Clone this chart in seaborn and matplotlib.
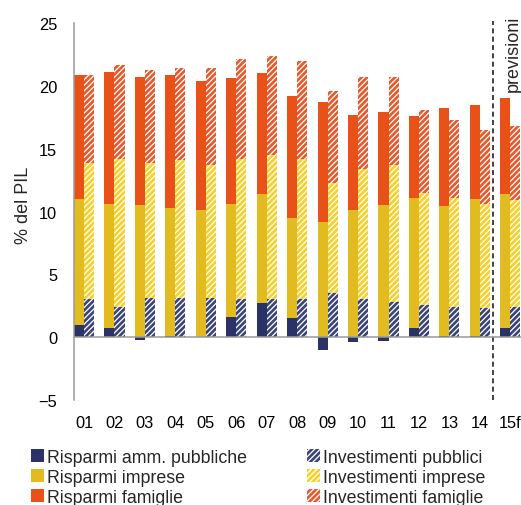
import numpy as np
import matplotlib
matplotlib.use('Agg')
import matplotlib.pyplot as plt
import seaborn as sns
from matplotlib.patches import Patch

years = ['01', '02', '03', '04', '05', '06', '07', '08', '09', '10', '11', '12', '13', '14', '15f']
# risparmi (% del PIL)
gov_sav = [1.0, 0.7, -0.2, 0.1, 0.0, 1.6, 2.7, 1.5, -1.0, -0.4, -0.3, 0.7, 0.1, 0.1, 0.7]
firm_sav = [10.0, 9.9, 10.5, 10.2, 10.1, 9.0, 8.7, 8.0, 9.2, 10.1, 10.5, 10.4, 10.3, 10.9, 10.7]
hh_sav = [9.9, 10.5, 10.2, 10.6, 10.3, 10.0, 9.6, 9.7, 9.5, 7.6, 7.4, 6.5, 7.8, 7.5, 7.6]
# investimenti (% del PIL)
pub_inv = [3.0, 2.4, 3.1, 3.1, 3.1, 3.0, 3.0, 3.0, 3.5, 3.0, 2.8, 2.6, 2.4, 2.3, 2.4]
firm_inv = [10.9, 11.8, 10.8, 11.0, 10.6, 11.2, 11.5, 11.2, 8.8, 10.4, 10.9, 8.9, 8.7, 8.3, 8.5]
hh_inv = [7.0, 7.5, 7.4, 7.3, 7.7, 7.9, 7.9, 7.8, 7.3, 7.3, 7.0, 6.6, 6.2, 5.9, 5.9]

sns.set_style('white')
plt.rcParams['font.family'] = ['Liberation Sans', 'DejaVu Sans']
plt.rcParams['hatch.linewidth'] = 1.9

navy = '#2b3266'
yellow = '#e1bb1f'
orange = '#e85218'
navy_h = '#3b4478'
yellow_h = '#f7d02a'
orange_h = '#e9582a'
hatch = '//////'

fig = plt.figure(figsize=(5.21, 5.06), dpi=100)
ax = fig.add_axes([0.142, 0.2075, 0.858, 0.745])

x = np.arange(len(years))
w = 0.33
gov = np.array(gov_sav)
base = np.clip(gov, 0, None)

# barre piene: risparmi
ax.bar(x - w/2, gov, w, color=navy, lw=0)
ax.bar(x - w/2, firm_sav, w, bottom=base, color=yellow, lw=0)
ax.bar(x - w/2, hh_sav, w, bottom=base + np.array(firm_sav), color=orange, lw=0)

# barre tratteggiate: investimenti
pi = np.array(pub_inv)
fi = np.array(firm_inv)
ax.bar(x + w/2, pi, w, color='white', edgecolor=navy_h, hatch=hatch, lw=0)
ax.bar(x + w/2, fi, w, bottom=pi, color='white', edgecolor=yellow_h, hatch=hatch, lw=0)
ax.bar(x + w/2, hh_inv, w, bottom=pi + fi, color='white', edgecolor=orange_h, hatch=hatch, lw=0)

ax.axhline(0, color='#9a9a9a', lw=1.1, zorder=3)
ax.plot([13.44, 13.44], [-5, 25.2], color='#222222', lw=1.2, ls=(0, (3, 2)), clip_on=False)
ax.text(14.1, 25.7, 'previsioni', rotation=90, ha='center', va='top', fontsize=13, clip_on=False)

ax.set_xlim(-0.33, 14.35)
ax.set_ylim(-5, 25)
ax.set_yticks([-5, 0, 5, 10, 15, 20, 25])
ax.set_xticks(x)
ax.set_xticklabels(years)
ax.tick_params(axis='both', labelsize=11.8, length=0, colors='black')
ax.tick_params(axis='x', pad=11)
ax.tick_params(axis='y', pad=12)
ax.set_ylabel('% del PIL', fontsize=13)
ax.yaxis.set_label_coords(-0.093, 0.519)

for s in ['top', 'right', 'bottom']:
    ax.spines[s].set_visible(False)
ax.spines['left'].set_color('#9a9a9a')
ax.spines['left'].set_linewidth(1.1)

handles = [
    Patch(facecolor=navy, lw=0, label='Risparmi amm. pubbliche'),
    Patch(facecolor=yellow, lw=0, label='Risparmi imprese'),
    Patch(facecolor=orange, lw=0, label='Risparmi famiglie'),
    Patch(facecolor='white', edgecolor=navy_h, hatch=hatch, lw=0, label='Investimenti pubblici'),
    Patch(facecolor='white', edgecolor=yellow_h, hatch=hatch, lw=0, label='Investimenti imprese'),
    Patch(facecolor='white', edgecolor=orange_h, hatch=hatch, lw=0, label='Investimenti famiglie'),
]
fig.legend(handles=handles, ncol=2, loc='upper left', bbox_to_anchor=(31/521, 1 - 450/506),
           frameon=False, fontsize=12.8, handlelength=0.75, handleheight=0.75,
           handletextpad=0.15, columnspacing=3.35, labelspacing=0.17, borderpad=0, borderaxespad=0)

plt.savefig('out.png', dpi=100)
